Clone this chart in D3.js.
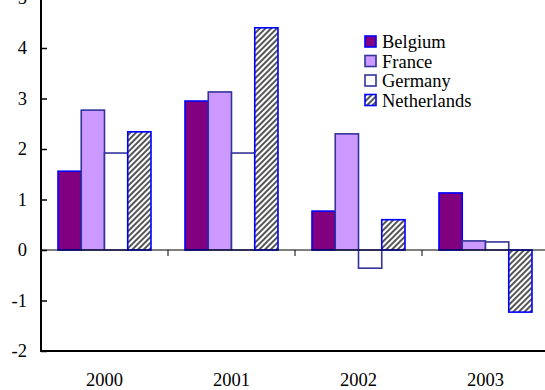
<!DOCTYPE html>
<html>
<head>
<meta charset="utf-8">
<script src="https://cdn.jsdelivr.net/npm/d3@7"></script>
<style>
  html, body { margin: 0; padding: 0; background: #fff; }
  svg { display: block; }
</style>
</head>
<body>
<script>
const years = ["2000", "2001", "2002", "2003"];
const countries = ["Belgium", "France", "Germany", "Netherlands"];
const belgium = [1.56, 2.95, 0.77, 1.13];
const france = [2.77, 3.13, 2.30, 0.18];
const germany = [1.92, 1.92, -0.36, 0.16];
const netherlands = [2.34, 4.40, 0.60, -1.23];
const yTicks = [-2, -1, 0, 1, 2, 3, 4, 5];

const seriesValues = [belgium, france, germany, netherlands];
const fills = ["#800080", "#CC99FF", "#FFFFFF", "url(#hatch)"];
const strokes = ["#0000FF", "#333399", "#333399", "#0000FF"];

const FONT = '"Liberation Serif"';
const FONT_SIZE = "18.5px";
const W = 545, H = 390;
const svg = d3.select("body").append("svg").attr("width", W).attr("height", H);

function label(sel) {
  return sel.style("font-family", FONT).style("font-size", FONT_SIZE).attr("fill", "#000");
}

// diagonal hatch used by the Netherlands series
const defs = svg.append("defs");
const pat = defs.append("pattern")
  .attr("id", "hatch").attr("patternUnits", "userSpaceOnUse")
  .attr("width", 4).attr("height", 4)
  .attr("patternTransform", "rotate(45)");
pat.append("rect").attr("width", 4).attr("height", 4).attr("fill", "#ffffff");
pat.append("rect").attr("width", 2).attr("height", 4).attr("fill", "#555555");

const x0 = d3.scaleBand().domain(years).range([41, 549]).paddingInner(0).paddingOuter(0);
const x1 = d3.scaleBand().domain(countries).range([0, 93]);
const y = d3.scaleLinear().domain([-2, 5]).range([351, -2.5]);

const groupOffset = (x0.bandwidth() - 93) / 2;

// bars
const groups = svg.append("g").selectAll("g").data(years).join("g")
  .attr("transform", d => `translate(${x0(d) + groupOffset},0)`);

groups.selectAll("rect")
  .data((yr, i) => countries.map((c, k) => ({ c, k, v: seriesValues[k][i] })))
  .join("rect")
  .attr("x", d => x1(d.c))
  .attr("width", x1.bandwidth())
  .attr("y", d => y(Math.max(0, d.v)))
  .attr("height", d => Math.abs(y(d.v) - y(0)))
  .attr("fill", d => fills[d.k])
  .attr("stroke", d => strokes[d.k])
  .attr("stroke-width", 1.6);

// zero line with category separators
svg.append("line")
  .attr("x1", 41).attr("x2", 549).attr("y1", y(0)).attr("y2", y(0))
  .attr("stroke", "#000").attr("stroke-width", 1);
svg.append("g").selectAll("line").data(years.slice(1)).join("line")
  .attr("x1", d => x0(d)).attr("x2", d => x0(d))
  .attr("y1", y(0)).attr("y2", y(0) + 6)
  .attr("stroke", "#000").attr("stroke-width", 1);

// left value axis
const yAxis = d3.axisRight(y).tickValues(yTicks).tickSize(6).tickFormat("");
const ya = svg.append("g").attr("transform", "translate(41,0)").call(yAxis);
ya.select(".domain").remove();
ya.selectAll("line").attr("stroke", "#000").attr("stroke-width", 1.5);
svg.append("line").attr("x1", 41).attr("x2", 41).attr("y1", y(5)).attr("y2", y(-2) + 1)
  .attr("stroke", "#000").attr("stroke-width", 2);
svg.append("g").selectAll("text").data(yTicks).join("text")
  .attr("x", 27).attr("y", d => y(d)).attr("dy", "0.33em")
  .attr("text-anchor", "end").call(label).text(d => d);

// bottom axis line and year labels
svg.append("line").attr("x1", 40).attr("x2", 549).attr("y1", y(-2)).attr("y2", y(-2))
  .attr("stroke", "#000").attr("stroke-width", 2);
svg.append("g").selectAll("text").data(years).join("text")
  .attr("x", d => x0(d) + x0.bandwidth() / 2).attr("y", 386)
  .attr("text-anchor", "middle").call(label).text(d => d);

// legend
const legend = svg.append("g").attr("transform", "translate(365,36)");
const items = legend.selectAll("g").data(countries).join("g")
  .attr("transform", (d, i) => `translate(0,${i * 19.5})`);
items.append("rect").attr("x", 0).attr("y", 0).attr("width", 11).attr("height", 11)
  .attr("fill", (d, i) => fills[i]).attr("stroke", (d, i) => strokes[i]).attr("stroke-width", 1.6);
items.append("text").attr("x", 17).attr("y", 12).call(label).text(d => d);
</script>
</body>
</html>
